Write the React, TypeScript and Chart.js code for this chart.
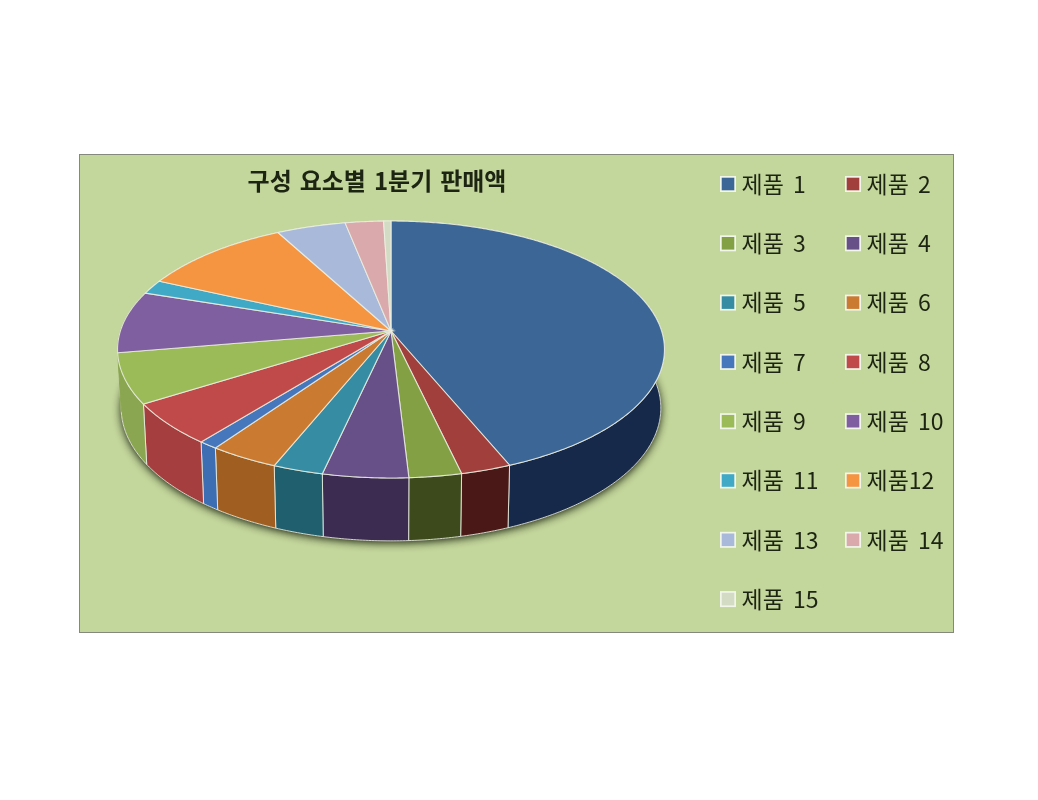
import React, { useEffect, useRef } from "react";
import { Chart, registerables } from "chart.js";

Chart.register(...registerables);

const titleText = "구성 요소별 1분기 판매액";
const categories = ["제품 1", "제품 2", "제품 3", "제품 4", "제품 5", "제품 6", "제품 7", "제품 8", "제품 9", "제품 10", "제품 11", "제품12", "제품 13", "제품 14", "제품 15"];
const sales = [43.8, 2.6, 2.7, 4.4, 2.6, 3.6, 1.0, 5.3, 6.3, 7.8, 1.8, 10.3, 4.7, 2.6, 0.5];
const topColors = ["#3c6696", "#a03f3c", "#83a044", "#674f87", "#368da3", "#cb7a31", "#4677bd", "#c04a4a", "#9bbb59", "#7f5fa0", "#3fa9c6", "#f59542", "#a9b9da", "#d9a9ac", "#d3dbc4"];
// the walls behind the left silhouette only ever show as the sliver next to 제품 9
const sideColors = ["#17294a", "#4a1917", "#3c4a1c", "#3d2c52", "#205f6d", "#a05f20", "#3d6eb3", "#a53f3f", "#8aa650", "#8aa650", "#358ea8", "#c97a35", "#8f9db8", "#b58f92", "#b0b8a0"];

// canvas offset and pie projection geometry (page pixels)
const BOX = { left: 80, top: 155, width: 873, height: 477 };
const TOP = { ax: 391, ay: 331, s: 270.6, k: 125.8 };
const BOTTOM = { ax: 391, ay: 389, s: 267, k: 130 };
const PERSP = 0.144;
const LEGEND = { x: [720, 845], y0: 184, dy: 59.3, box: 16, gap: 5.5, font: 23 };

function project(g: typeof TOP, phi: number) {
  const u = Math.sin(phi);
  const v = Math.cos(phi);
  const w = 1 + PERSP * v;
  return { x: g.ax - BOX.left + (g.s * u) / w, y: g.ay - BOX.top - (g.k * v) / w };
}

function rim(g: typeof TOP, a: number, b: number) {
  const n = Math.max(2, Math.ceil(Math.abs(b - a) / 0.01));
  const out = [];
  for (let i = 0; i <= n; i++) out.push(project(g, a + ((b - a) * i) / n));
  return out;
}

const pie3d = {
  id: "pie3d",
  beforeDraw(chart: any) {
    (chart.ctx as any).wordSpacing = "2.5px";
  },
  beforeDatasetDraw(chart: any) {
    const ctx = chart.ctx as CanvasRenderingContext2D;
    const arcs = chart.getDatasetMeta(0).data;
    const spans = arcs.map((arc: any) => {
      const p = arc.getProps(["startAngle", "endAngle"], true);
      return [p.startAngle + Math.PI / 2, p.endAngle + Math.PI / 2];
    });
    const edge = "rgba(236,240,226,0.85)";

    // drop shadow under the base
    ctx.save();
    ctx.shadowColor = "rgba(15,20,5,0.95)";
    ctx.shadowBlur = 8;
    ctx.shadowOffsetY = 2;
    ctx.fillStyle = "#222";
    ctx.beginPath();
    rim(BOTTOM, 0, Math.PI * 2).forEach((p, i) => (i ? ctx.lineTo(p.x, p.y) : ctx.moveTo(p.x, p.y)));
    ctx.closePath();
    ctx.fill();
    ctx.restore();

    // side walls
    spans.forEach(([a, b]: number[], i: number) => {
      const pts = [...rim(TOP, a, b), ...rim(BOTTOM, a, b).reverse()];
      ctx.beginPath();
      pts.forEach((p, j) => (j ? ctx.lineTo(p.x, p.y) : ctx.moveTo(p.x, p.y)));
      ctx.closePath();
      ctx.fillStyle = sideColors[i];
      ctx.fill();
      ctx.strokeStyle = i === 9 ? sideColors[i] : edge;
      ctx.lineWidth = 1;
      ctx.stroke();
    });

    // top face
    const apex = { x: TOP.ax - BOX.left, y: TOP.ay - BOX.top };
    spans.forEach(([a, b]: number[], i: number) => {
      ctx.beginPath();
      ctx.moveTo(apex.x, apex.y);
      rim(TOP, a, b).forEach((p) => ctx.lineTo(p.x, p.y));
      ctx.closePath();
      ctx.fillStyle = topColors[i];
      ctx.fill();
      ctx.strokeStyle = edge;
      ctx.lineWidth = 1.1;
      ctx.stroke();
    });
    return false;
  },
  afterDraw(chart: any) {
    const ctx = chart.ctx as CanvasRenderingContext2D;
    ctx.save();
    (ctx as any).wordSpacing = "4px";
    ctx.textBaseline = "middle";
    ctx.textAlign = "left";
    ctx.font = `${LEGEND.font}px "Noto Sans CJK KR"`;
    categories.forEach((name, i) => {
      const x = LEGEND.x[i % 2] - BOX.left;
      const y = LEGEND.y0 + LEGEND.dy * Math.floor(i / 2) - BOX.top;
      const h = LEGEND.box;
      ctx.fillStyle = topColors[i];
      ctx.strokeStyle = "#f2f5ea";
      ctx.lineWidth = 1.7;
      ctx.fillRect(x + 0.85, y - h / 2 + 0.85, h - 1.7, h - 1.7);
      ctx.strokeRect(x + 0.85, y - h / 2 + 0.85, h - 1.7, h - 1.7);
      ctx.fillStyle = "#1c2412";
      ctx.fillText(name, x + h + LEGEND.gap, y);
    });
    ctx.restore();
  },
};

export default function App() {
  const ref = useRef<HTMLCanvasElement>(null);
  useEffect(() => {
    const chart = new Chart(ref.current!, {
      type: "pie",
      data: {
        labels: categories,
        datasets: [{ data: sales, backgroundColor: topColors, borderWidth: 0 }],
      },
      options: {
        responsive: false,
        animation: false,
        events: [],
        layout: { padding: { right: 279 } },
        plugins: {
          legend: { display: false },
          tooltip: { enabled: false },
          title: {
            display: true,
            text: titleText,
            fullSize: false,
            color: "#1c2412",
            font: { family: '"Noto Sans CJK KR"', size: 24, weight: "bold" },
            padding: { top: 11, bottom: 0 },
          },
        },
      },
      plugins: [pie3d],
    } as any);
    return () => chart.destroy();
  }, []);
  return (
    <div
      style={{
        position: "absolute",
        left: BOX.left - 1,
        top: BOX.top - 1,
        width: BOX.width,
        height: BOX.height,
        background: "#c3d69b",
        border: "1px solid #85897c",
      }}
    >
      <canvas ref={ref} width={BOX.width} height={BOX.height} style={{ display: "block" }} />
    </div>
  );
}
